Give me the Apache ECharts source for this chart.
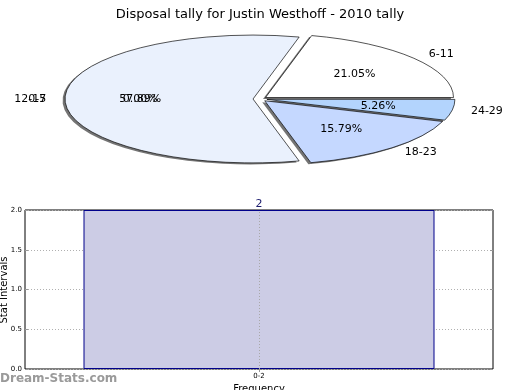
<!DOCTYPE html>
<html>
<head>
<meta charset="utf-8">
<script src="https://cdn.jsdelivr.net/npm/echarts@6/dist/echarts.min.js"></script>
<style>html,body{margin:0;padding:0;background:#fff}#c{width:520px;height:390px}</style>
</head>
<body>
<div id="c"></div>
<script>
// ---- data ----
const titleText = 'Disposal tally for Justin Westhoff - 2010 tally';
const pieCategories = ['6-11', '12-17', '18-23', '24-29', '0-5'];
const pieValues = [4, 11, 3, 1, 0];
const barCategories = ['0-2'];
const barValues = [2];
const yTicks = [0, 0.5, 1, 1.5, 2];

// ---- styles ----
const pieColors = ['#ffffff', '#eaf1fd', '#c5d8ff', '#b3d4fd', '#dde8fb'];
const FONT = 'DejaVu Sans';

const total = pieValues.reduce((a, b) => a + b, 0);
const starts = [];
let acc = 0;
pieValues.forEach(v => { starts.push(acc); acc += v; });

const chart = echarts.init(document.getElementById('c'), null, {renderer: 'canvas'});

function renderPie(params, api) {
  const i = params.dataIndex;
  const v = api.value(0);
  const cx = 260, cy = 99, R = 188, k = 0.34, ex = 7;
  const a1 = starts[i] / total * 2 * Math.PI;
  const a2 = (starts[i] + v) / total * 2 * Math.PI;
  let mid = (a1 + a2) / 2;
  if (v === 0) mid = Math.PI; // zero slice label lands with the big slice in the source
  const dx = ex * Math.cos(mid);
  const dy = -ex * k * Math.sin(mid);
  const ox = cx + dx, oy = cy + dy;
  const shape = {cx: 0, cy: 0, r: R, r0: 0, startAngle: -a2, endAngle: -a1, clockwise: true};
  const children = [];
  if (v > 0) {
    children.push({
      type: 'sector', x: ox - 2.5, y: oy + 1.5, scaleY: k, shape: shape,
      style: {fill: 'rgba(70,70,70,0.75)', stroke: null}, z2: 1
    });
    children.push({
      type: 'sector', x: ox, y: oy, scaleY: k, shape: shape,
      style: {fill: pieColors[i], stroke: '#000', lineWidth: 1, strokeNoScale: true}, z2: 2
    });
  }
  const lx = ox + 1.1 * R * Math.cos(mid);
  const ly = oy - 1.1 * R * k * Math.sin(mid);
  children.push({
    type: 'text', x: lx, y: ly, z2: 5,
    style: {text: pieCategories[i], fill: '#000', font: '11px ' + FONT,
      align: Math.cos(mid) > 0 ? 'left' : 'right', verticalAlign: 'middle'}
  });
  const px = ox + 0.6 * R * Math.cos(mid);
  const py = oy - 0.6 * R * k * Math.sin(mid);
  children.push({
    type: 'text', x: px, y: py, z2: 5,
    style: {text: (v / total * 100).toFixed(2) + '%', fill: '#000', font: '11px ' + FONT,
      align: 'center', verticalAlign: 'middle'}
  });
  return {type: 'group', children: children};
}

const option = {
  animation: false,
  backgroundColor: '#fff',
  title: {
    text: titleText, left: 'center', top: 3,
    textStyle: {fontFamily: FONT, fontSize: 13, fontWeight: 'normal', color: '#000'}
  },
  graphic: [{
    type: 'text', left: 0, top: 373,
    style: {text: 'Dream-Stats.com', fill: '#9a9a9a', font: 'bold 12px ' + FONT}
  }, {
    type: 'text', x: 4, y: 290, rotation: Math.PI / 2,
    style: {text: 'Stat Intervals', fill: '#000', font: '10px ' + FONT, align: 'center', verticalAlign: 'middle'}
  }],
  grid: {left: 25, right: 27, top: 210, bottom: 21, containLabel: false, outerBoundsMode: 'none',
    show: true, borderColor: '#000', borderWidth: 1, backgroundColor: 'transparent'},
  xAxis: [{
    type: 'category', data: barCategories, position: 'bottom',
    name: 'Frequency', nameLocation: 'middle', nameGap: 15,
    nameTextStyle: {fontFamily: FONT, fontSize: 10, color: '#000'},
    axisLine: {show: false},
    axisTick: {show: true, inside: true, alignWithLabel: true, length: 3, lineStyle: {color: '#999'}},
    axisLabel: {fontFamily: FONT, fontSize: 7, color: '#000', margin: 4},
    splitLine: {show: false}
  }, {
    type: 'category', data: barCategories, position: 'top',
    axisLine: {show: false},
    axisTick: {show: true, inside: true, alignWithLabel: true, length: 3, lineStyle: {color: '#999'}},
    axisLabel: {show: false}
  }],
  yAxis: [{
    type: 'value', min: 0, max: 2, interval: 0.5,
    axisLine: {show: false},
    axisTick: {show: true, inside: true, length: 3, lineStyle: {color: '#999'}},
    axisLabel: {fontFamily: FONT, fontSize: 7, color: '#000', margin: 3, formatter: v => v.toFixed(1)},
    splitLine: {show: true, lineStyle: {color: '#b0b0b0', type: [1, 2], width: 1}}
  }, {
    type: 'value', min: 0, max: 2, interval: 0.5, position: 'right',
    axisLine: {show: false},
    axisTick: {show: true, inside: true, length: 3, lineStyle: {color: '#999'}},
    axisLabel: {show: false}, splitLine: {show: false}
  }],
  series: [{
    type: 'custom', coordinateSystem: 'none',
    data: pieValues.map(v => [v]),
    renderItem: renderPie, silent: true
  }, {
    type: 'bar', data: barValues, xAxisIndex: 0, yAxisIndex: 0, barWidth: '75%',
    itemStyle: {color: '#ccccE5', borderColor: '#00008b', borderWidth: 1},
    label: {show: true, position: 'top', distance: 0, color: '#1c1c6e', fontFamily: FONT, fontSize: 11},
    markLine: {
      silent: true, symbol: 'none', label: {show: false},
      lineStyle: {color: '#a8a8a8', type: [1, 2], width: 1},
      data: [{xAxis: barCategories[0]}]
    }
  }]
};
chart.setOption(option);
</script>
</body>
</html>
